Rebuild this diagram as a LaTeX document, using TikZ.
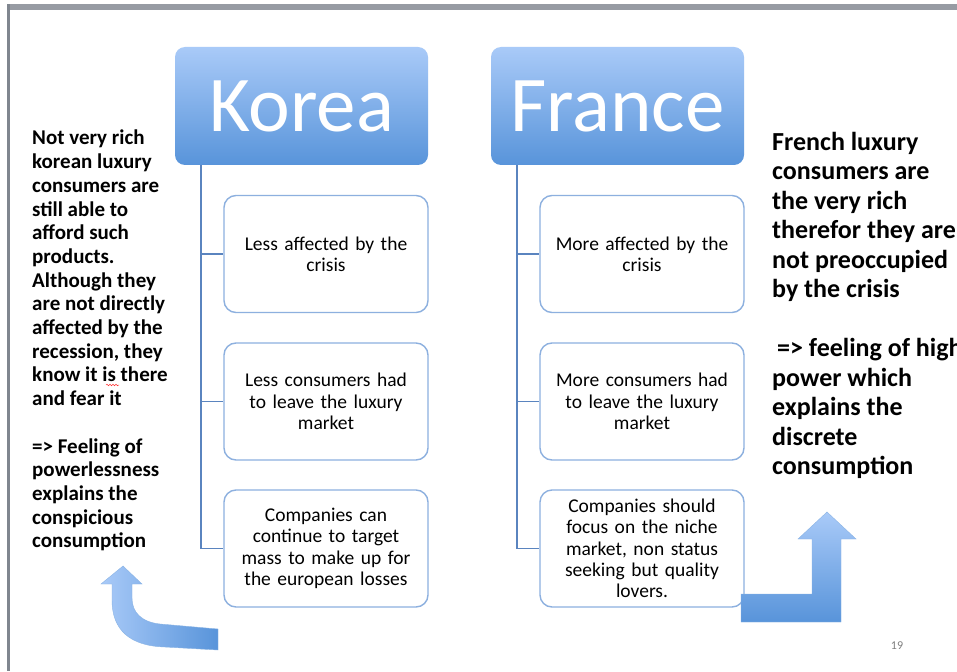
\documentclass[tikz,border=0pt]{standalone}
\usepackage{fontspec}
\setmainfont{Carlito}
\usetikzlibrary{calc,decorations.pathmorphing}
\definecolor{hdrtop}{HTML}{A9CAF8}
\definecolor{hdrbot}{HTML}{5894DA}
\definecolor{boxline}{HTML}{8DB0DF}
\definecolor{stem}{HTML}{5A84BF}
\definecolor{frame}{HTML}{979BA3}
\definecolor{framedark}{HTML}{80868F}
\tikzset{
  header/.style={rounded corners=10pt, top color=hdrtop, bottom color=hdrbot,
    minimum width=253pt, minimum height=118pt, inner sep=0pt, text=white,
    font=\fontsize{79}{82}\selectfont},
  item/.style={draw=boxline, line width=1.4pt, rounded corners=12pt, fill=white,
    minimum width=204pt, minimum height=117pt, inner sep=2pt, align=center,
    text width=198pt, font=\fontsize{19.5}{21.3}\selectfont},
  stemline/.style={draw=stem, line width=1.5pt},
  note/.style={anchor=north west, inner sep=0pt, align=left},
}
\begin{document}
\begin{tikzpicture}[x=1pt,y=-1pt]
\useasboundingbox (0,0) rectangle (957,671);
\clip (0,0) rectangle (957,671);
\fill[white] (0,0) rectangle (957,671);
% slide frame
\fill[frame] (7,4) rectangle (957,10);
\fill[framedark] (7,4) rectangle (10,671);

% column headers
\node[header] (korea) at (301.5,106) {\raisebox{-3pt}{Korea}};
\node[header] (france) at (617.5,106) {\raisebox{-3pt}{France}};

% Korea items
\node[item] (k1) at (326,254) {Less affected by the\\crisis};
\node[item] (k2) at (326,401.5) {Less consumers had\\to leave the luxury\\market};
\node[item] (k3) at (326,548.5) {Companies can\\continue to target\\mass to make up for\\the european losses};

% France items
\node[item] (f1) at (642,254) {More affected by the\\crisis};
\node[item] (f2) at (642,401.5) {More consumers had\\to leave the luxury\\market};
\node[item] (f3) at (642,548.5) {Companies should\\focus on the niche\\market, non status\\seeking but quality\\lovers.};

% tree stems
\coordinate (kstem) at ($(korea.south west)+(26,0)$);
\coordinate (fstem) at ($(france.south west)+(26,0)$);
\draw[stemline] (kstem) |- (k1.west);
\draw[stemline] (kstem) |- (k2.west);
\draw[stemline] (kstem) |- (k3.west);
\draw[stemline] (fstem) |- (f1.west);
\draw[stemline] (fstem) |- (f2.west);
\draw[stemline] (fstem) |- (f3.west);

% side notes
\node[note, font=\bfseries\fontsize{21}{23.7}\selectfont] (knote) at (32,130)
  {Not very rich\\korean luxury\\consumers are\\still able to\\afford such\\products.\\Although they\\are not directly\\affected by the\\recession, they\\know it is there\\and fear it\\[23.7pt]=> Feeling of\\powerlessness\\explains the\\conspicious\\consumption};
\node[note, font=\bfseries\fontsize{26}{29.5}\selectfont] (fnote) at (772,132)
  {French luxury\\consumers are\\the very rich\\therefor they are\\not preoccupied\\by the crisis\\[29.5pt]\hspace{5pt}=> feeling of high\\power which\\explains the\\discrete\\consumption};

% spelling mark under "is"
\draw[red!80, line width=0.5pt, decorate, decoration={snake, amplitude=0.8pt, segment length=3pt}] (106,385) -- (119,385);

% curved arrow under the Korea column
\path[left color=hdrtop, right color=hdrbot, draw=hdrbot!70, line width=0.4pt]
  (218,629) -- (160,624)
  .. controls (141,622) and (132,612) .. (132,598)
  -- (132,584) -- (142,584) -- (123,566) -- (101,584) -- (112,584) -- (112,600)
  .. controls (112,630) and (130,646) .. (165,647)
  -- (218,650) -- cycle;

% bent arrow beside the France column
\path[top color=hdrtop, bottom color=hdrbot, draw=hdrbot!70, line width=0.4pt]
  (741,594) -- (812,594) -- (812,539) -- (798,539) -- (827,512) -- (856,539)
  -- (841,539) -- (841,622) -- (741,622) -- cycle;

% slide number
\node[text=gray, font=\fontsize{12}{14}\selectfont] (pageno) at (897,646) {19};
\end{tikzpicture}
\end{document}
